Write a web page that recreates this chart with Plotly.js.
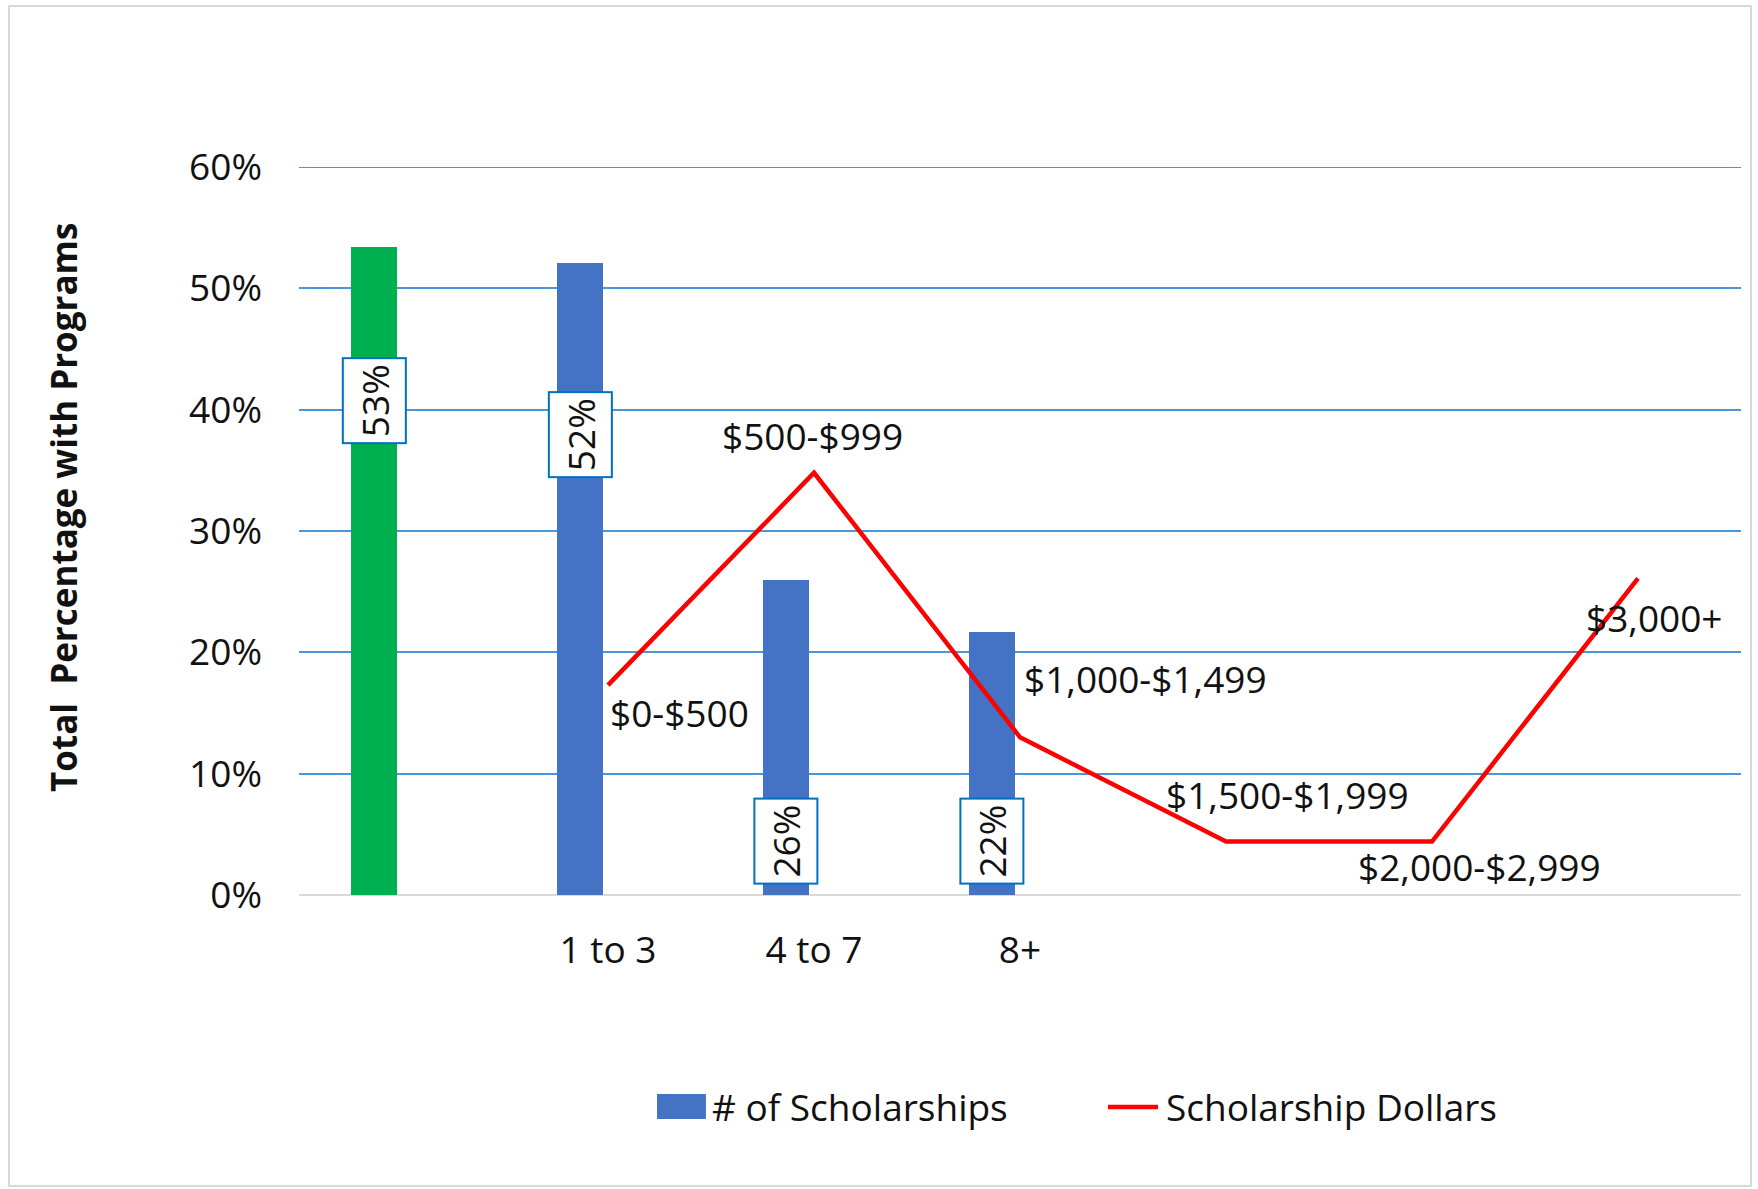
<!DOCTYPE html>
<html>
<head>
<meta charset="utf-8">
<script src="https://cdn.plot.ly/plotly-3.0.1.min.js"></script>
<style>
html,body{margin:0;padding:0;background:#ffffff;}
#wrap{position:relative;width:1758px;height:1189px;}
#chart{position:absolute;left:0;top:0;width:1758px;height:1189px;}
#frame{position:absolute;left:8px;top:5px;width:1740px;height:1178px;border:2px solid #d9d9d9;pointer-events:none;}
</style>
</head>
<body>
<div id="wrap"><div id="chart"></div><div id="frame"></div></div>
<script>
// ---- data ----
const countCategories = ["1 to 3", "4 to 7", "8+"];
const totalWithPrograms = [0.534];
const scholarshipCounts = [0.521, 0.26, 0.217];
const dollarRanges = ["$0-$500", "$500-$999", "$1,000-$1,499", "$1,500-$1,999", "$2,000-$2,999", "$3,000+"];
const dollarShares = [0.173, 0.348, 0.130, 0.044, 0.044, 0.261];
const yTickValues = [0, 0.1, 0.2, 0.3, 0.4, 0.5, 0.6];
const yAxisTitle = 'Total\u00a0 Percentage with Programs';

// ---- styling / layout helpers ----
const FONT = '"Open Sans", "Noto Sans", sans-serif';
const TXT = '#111111';
const FS = 37;
const GRID = '#4B96D8';
const BAR_W = 0.223, BAR_OFF = -0.2475;

const countX = countCategories.map((_, i) => i + 1);
const dollarX = dollarRanges.map((_, i) => i + 1);
const yMax = yTickValues[yTickValues.length - 1];

const traces = [
  {type: 'bar', x: [0], y: totalWithPrograms, width: BAR_W, offset: BAR_OFF,
   marker: {color: '#00B050'}, showlegend: false, hoverinfo: 'y'},
  {type: 'bar', x: countX, y: scholarshipCounts, width: BAR_W, offset: BAR_OFF,
   marker: {color: '#4472C4'}, name: '# of Scholarships', showlegend: false},
  {type: 'scatter', mode: 'lines', x: dollarX, y: dollarShares,
   line: {color: '#FF0000', width: 4.5}, name: 'Scholarship Dollars', showlegend: false}
];

const annotations = [];
// boxed, rotated percentage labels on bars
const barLabelSpecs = [
  {x: 0, v: totalWithPrograms[0], at: 0.407},
  {x: countX[0], v: scholarshipCounts[0], at: 0.379},
  {x: countX[1], v: scholarshipCounts[1], at: 0.044},
  {x: countX[2], v: scholarshipCounts[2], at: 0.044}
];
barLabelSpecs.forEach(s => annotations.push({
  x: s.x, y: s.at, xref: 'x', yref: 'y', xshift: -28,
  text: Math.round(s.v * 100) + '%', showarrow: false, textangle: -90,
  font: {family: FONT, size: FS, color: TXT},
  bgcolor: '#ffffff', bordercolor: '#0070C0', borderwidth: 2, borderpad: 5
}));
// line point labels
const lineLabelShift = [[71, -27], [-2, 37], [125, 59], [61, 47], [47, -25], [16, -39]];
dollarRanges.forEach((t, i) => annotations.push({
  x: dollarX[i], y: dollarShares[i], xref: 'x', yref: 'y',
  xshift: lineLabelShift[i][0], yshift: lineLabelShift[i][1],
  text: t, showarrow: false, font: {family: FONT, size: FS, color: TXT}
}));
// y-axis title
annotations.push({x: -0.163, y: 0.533, xref: 'paper', yref: 'paper', xanchor: 'center', yanchor: 'middle',
  text: yAxisTitle, textangle: -90, showarrow: false,
  font: {family: FONT, size: 35, color: TXT, weight: 'bold'}});
// custom legend texts
annotations.push({x: 0.285, y: -0.2912, xref: 'paper', yref: 'paper', xanchor: 'left', yanchor: 'middle',
  text: '# of Scholarships', showarrow: false, font: {family: FONT, size: FS, color: TXT}});
annotations.push({x: 0.5999, y: -0.2912, xref: 'paper', yref: 'paper', xanchor: 'left', yanchor: 'middle',
  text: 'Scholarship Dollars', showarrow: false, font: {family: FONT, size: FS, color: TXT}});

const shapes = [
  // top gridline (at the edge of the value axis range)
  {type: 'line', xref: 'paper', yref: 'y', x0: 0, x1: 1, y0: yMax, y1: yMax,
   line: {color: GRID, width: 2}, layer: 'below'},
  {type: 'rect', xref: 'paper', yref: 'paper', x0: 0.2483, x1: 0.2822, y0: -0.3077, y1: -0.2734,
   fillcolor: '#4472C4', line: {width: 0}},
  {type: 'line', xref: 'paper', yref: 'paper', x0: 0.561, x1: 0.5957, y0: -0.2912, y1: -0.2912,
   line: {color: '#FF0000', width: 4.5}}
];

const layout = {
  width: 1758, height: 1189,
  margin: {l: 299, r: 17, t: 167, b: 294, pad: 0},
  paper_bgcolor: '#ffffff', plot_bgcolor: '#ffffff',
  showlegend: false,
  bargap: 0,
  xaxis: {
    range: [-0.5, 6.5], tickvals: countX, ticktext: countCategories,
    showgrid: false, zeroline: false, showline: false, ticks: '',
    ticklabelstandoff: 30,
    tickfont: {family: FONT, size: FS, color: TXT}
  },
  yaxis: {
    range: [0, yMax], tickvals: yTickValues, tickformat: '.0%',
    showgrid: true, gridcolor: GRID, gridwidth: 2,
    zeroline: true, zerolinecolor: '#d9d9d9', zerolinewidth: 2,
    showline: false, ticks: '', ticklabelstandoff: 36,
    tickfont: {family: FONT, size: FS, color: TXT}
  },
  annotations: annotations,
  shapes: shapes
};

Plotly.newPlot('chart', traces, layout, {displayModeBar: false, staticPlot: true});
</script>
</body>
</html>
